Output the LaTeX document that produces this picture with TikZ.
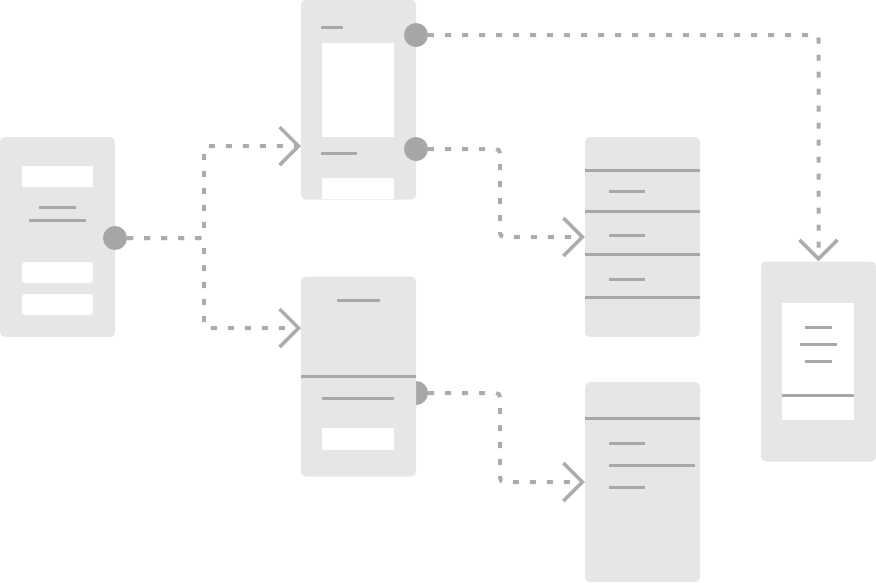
\documentclass[tikz,border=0pt]{standalone}
\usetikzlibrary{arrows.meta}
\definecolor{screenfill}{RGB}{230,230,232}
\definecolor{bargrey}{RGB}{168,168,170}
\definecolor{dotgrey}{RGB}{166,166,168}
\definecolor{linkgrey}{RGB}{172,172,174}
\begin{document}
\begin{tikzpicture}[x=1pt, y=-1pt,
  screen/.style = {fill=screenfill, rounded corners=5pt,
    minimum width=115pt, minimum height=200pt, inner sep=0pt},
  panel/.style = {fill=white},
  button/.style = {fill=white, rounded corners=3pt},
  bar/.style = {draw=bargrey, line width=3pt},
  dot/.style = {circle, fill=dotgrey, minimum size=24pt, inner sep=0pt},
  link/.style = {draw=linkgrey, line width=4pt, dash pattern=on 6pt off 11pt,
    rounded corners=4pt,
    -{Straight Barb[length=19pt, width=38pt, line width=3.5pt]}}]
  \useasboundingbox (0,0) rectangle (876,582);
  % the dot of the profile screen sits behind it
  \node[dot] (d3) at (416,393) {};
  % screens
  \node[screen] (start) at (57.5,237) {};
  \node[screen] (feed) at (358.5,99.5) {};
  \node[screen] (profile) at (358.5,376.5) {};
  \node[screen] (listtop) at (642.5,237) {};
  \node[screen] (listbottom) at (642.5,482) {};
  \node[screen] (popup) at (818.5,361.5) {};
  % start screen
  \fill[panel] (22,166) rectangle (93,187);
  \draw[bar] (39,207) -- (76,207);
  \draw[bar] (29,220) -- (86,220);
  \fill[button] (22,262) rectangle (93,283);
  \fill[button] (22,294) rectangle (93,315);
  % feed screen
  \draw[bar] (321,27) -- (343,27);
  \fill[panel] (322,43) rectangle (394,137);
  \draw[bar] (321,153) -- (357,153);
  \fill[panel] (322,178) rectangle (394,199);
  % profile screen
  \draw[bar] (337,300) -- (380,300);
  \draw[bar] (301,376) -- (416,376);
  \draw[bar] (322,398) -- (394,398);
  \fill[panel] (322,428) rectangle (394,450);
  % upper list
  \draw[bar] (585,170) -- (700,170);
  \draw[bar] (609,191) -- (645,191);
  \draw[bar] (585,211) -- (700,211);
  \draw[bar] (609,235) -- (645,235);
  \draw[bar] (585,254) -- (700,254);
  \draw[bar] (609,279) -- (645,279);
  \draw[bar] (585,297) -- (700,297);
  % lower list
  \draw[bar] (585,418) -- (700,418);
  \draw[bar] (609,443) -- (645,443);
  \draw[bar] (609,465) -- (695,465);
  \draw[bar] (609,487) -- (645,487);
  % popup screen
  \fill[panel] (782,303) rectangle (854,420);
  \draw[bar] (805,327) -- (832,327);
  \draw[bar] (800,344) -- (837,344);
  \draw[bar] (805,361) -- (832,361);
  \draw[bar] (782,395) -- (854,395);
  % dots
  \node[dot] (d0) at (115,238) {};
  \node[dot] (d1) at (416,35) {};
  \node[dot] (d2) at (416,149) {};
  \coordinate (feedin) at (301,146);
  \coordinate (profilein) at (301,328);
  % links
  \draw[link] (d0) -- ++(89,0) |- (feedin);
  \draw[link] (d0) -- ++(89,0) |- (profilein);
  \draw[link] (d1) -| (popup.north);
  \draw[link] (d2) -- ++(84,0) |- (listtop.west);
  \draw[link] (d3) -- ++(84,0) |- (listbottom.west);
\end{tikzpicture}
\end{document}
